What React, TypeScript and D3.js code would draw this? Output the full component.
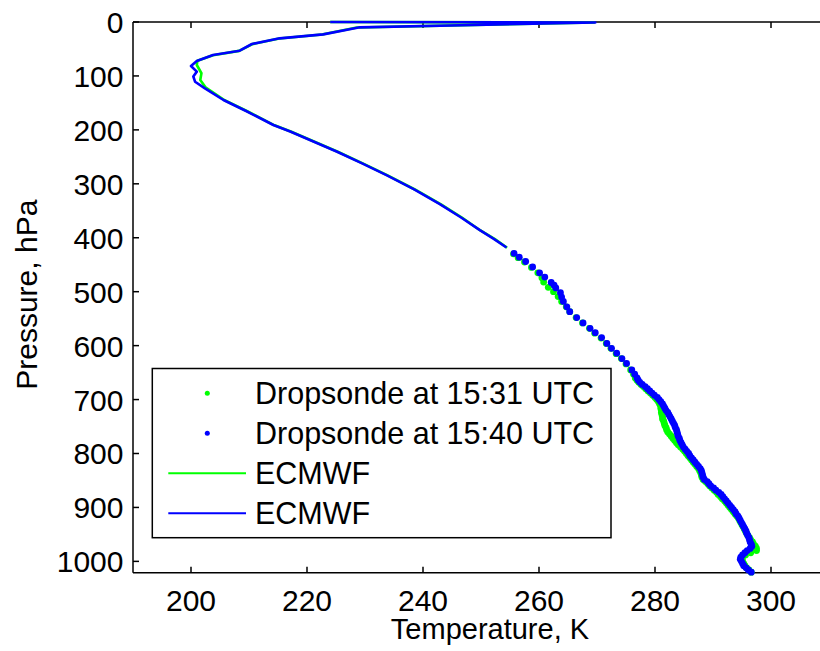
import React from "react";
import * as d3 from "d3";

// ---- data (T in K, p in hPa) ----
const ecmwfGreen: [number, number][] = [
  [224.0, 0.01], [269.5, 0.9], [228.6, 10.2], [222.6, 23.2], [215.2, 30.6], [210.6, 41.0],
  [208.3, 53.5], [203.8, 61.5], [201.1, 72.0], [201.0, 79.7], [201.8, 95.0], [201.6, 107.5],
  [202.5, 121.0], [205.8, 145.0], [209.7, 165.5], [214.4, 191.5], [217.3, 203.5],
  [225.3, 240.5], [229.7, 262.5], [233.9, 284.5], [238.6, 310.5], [243.1, 338.0],
  [246.7, 362.5], [249.9, 386.5], [252.4, 402.5], [254.5, 418.5],
];
const ecmwfBlue: [number, number][] = [
  [224.0, 0.01], [269.7, 0.8], [229.1, 9.9], [222.8, 22.9], [215.3, 30.3], [210.5, 40.8],
  [208.4, 53.2], [203.8, 61.2], [201.0, 72.3], [200.0, 81.6], [201.0, 92.0], [200.4, 101.0],
  [200.7, 110.7], [202.4, 123.0], [205.6, 144.6], [209.5, 165.0], [214.2, 191.0],
  [217.1, 203.0], [225.1, 240.0], [229.5, 262.0], [233.7, 284.0], [238.4, 310.0],
  [242.9, 337.5], [246.5, 362.0], [249.8, 386.0], [252.2, 402.0], [254.4, 418.0],
];
const sondeGreen: [number, number][] = [
  [255.6, 430], [256.4, 437], [257.5, 445], [258.7, 455], [259.8, 465], [260.5, 474], [260.8, 482],
  [261.6, 492], [262.5, 500], [263.3, 509], [263.9, 518], [264.7, 528], [265.3, 537], [266.4, 548],
  [267.5, 558], [268.7, 568], [269.6, 577], [270.7, 586], [271.6, 596], [272.4, 605], [273.3, 615],
  [274.2, 624], [275.0, 634], [275.8, 645], [276.3, 653],
  [276.6, 660], [276.9, 664], [277.2, 668], [277.6, 672], [278.0, 676], [278.4, 680], [278.8, 684],
  [279.2, 688], [279.6, 692], [280.0, 696], [280.3, 700], [280.6, 704], [280.8, 708], [281.0, 712],
  [281.0, 716], [281.1, 720], [281.1, 724], [281.2, 728], [281.3, 732], [281.3, 736], [281.5, 740],
  [281.6, 744], [281.7, 748], [281.9, 752], [282.0, 756], [282.2, 760], [282.5, 764], [282.8, 768],
  [283.1, 772], [283.4, 776], [283.7, 780], [284.0, 784], [284.4, 788], [284.8, 792], [285.1, 796],
  [285.4, 800], [285.7, 804], [286.0, 808], [286.3, 812], [286.6, 816], [286.9, 820], [287.2, 824],
  [287.5, 828], [287.7, 832], [287.9, 836], [288.0, 840], [288.1, 844], [288.3, 848], [288.7, 852],
  [289.1, 856], [289.4, 860], [289.8, 864], [290.2, 868], [290.6, 872], [290.9, 876], [291.3, 880],
  [291.6, 884], [292.0, 888], [292.3, 892], [292.6, 896], [292.9, 900], [293.2, 904], [293.5, 908],
  [293.8, 912], [294.1, 916], [294.4, 920], [294.6, 924], [294.8, 928], [295.0, 932], [295.2, 936],
  [295.4, 940], [295.6, 944], [295.8, 948], [296.0, 952], [296.3, 956], [296.5, 960], [296.8, 964],
  [297.0, 968], [297.3, 972], [297.5, 976], [297.5, 980], [296.5, 984], [295.6, 988], [295.1, 992],
  [295.0, 996], [295.1, 1000], [295.3, 1004], [295.5, 1008], [295.8, 1012], [296.2, 1016], [296.6, 1020],
];
const sondeBlue: [number, number][] = [
  [255.7, 429], [256.6, 436], [257.7, 444], [258.9, 454], [260.1, 465], [261.0, 473], [262.1, 483],
  [262.6, 488], [262.9, 493], [263.7, 502], [263.9, 510], [264.2, 518], [264.8, 528], [265.3, 537],
  [266.5, 548], [267.6, 558], [268.8, 568], [269.7, 576], [270.8, 585], [271.7, 596], [272.5, 605],
  [273.4, 614], [274.3, 624], [275.1, 633], [276.0, 645], [276.5, 653],
  [276.9, 660], [277.1, 664], [277.4, 668], [277.8, 672], [278.3, 676], [278.7, 680], [279.1, 684],
  [279.5, 688], [279.9, 692], [280.4, 696], [280.7, 700], [281.0, 704], [281.3, 708], [281.5, 712],
  [281.7, 716], [281.9, 720], [282.2, 724], [282.4, 728], [282.6, 732], [282.8, 736], [283.0, 740],
  [283.2, 744], [283.4, 748], [283.5, 752], [283.7, 756], [283.8, 760], [283.9, 764], [284.0, 768],
  [284.2, 772], [284.3, 776], [284.5, 780], [284.7, 784], [284.9, 788], [285.2, 792], [285.5, 796],
  [285.8, 800], [286.0, 804], [286.3, 808], [286.6, 812], [286.9, 816], [287.2, 820], [287.5, 824],
  [287.8, 828], [288.0, 832], [288.1, 836], [288.2, 840], [288.3, 844], [288.5, 848], [289.0, 852],
  [289.3, 856], [289.6, 860], [290.1, 864], [290.5, 868], [291.0, 872], [291.4, 876], [291.7, 880],
  [292.0, 884], [292.3, 888], [292.6, 892], [292.9, 896], [293.2, 900], [293.5, 904], [293.8, 908],
  [294.0, 912], [294.3, 916], [294.5, 920], [294.7, 924], [294.9, 928], [295.1, 932], [295.3, 936],
  [295.5, 940], [295.7, 944], [295.8, 948], [296.0, 952], [296.2, 956], [296.3, 960], [296.4, 964],
  [296.6, 968], [296.7, 972], [296.4, 976], [295.9, 980], [295.5, 984], [295.1, 988], [294.8, 992],
  [294.7, 996], [294.9, 1000], [295.1, 1004], [295.3, 1008], [295.7, 1012], [296.1, 1016], [296.6, 1020],
];
const xTicks = [200, 220, 240, 260, 280, 300];
const yTicks = [0, 100, 200, 300, 400, 500, 600, 700, 800, 900, 1000];
const legendLabels = ["Dropsonde at 15:31 UTC", "Dropsonde at 15:40 UTC", "ECMWF", "ECMWF"];
const xTitle = "Temperature, K";
const yTitle = "Pressure, hPa";

const GREEN = "#00ff00";
const BLUE = "#0000ff";
const FONT = "'Liberation Sans', Arial, Helvetica, sans-serif";

export default function App() {
  const W = 820, H = 651;
  const left = 133, right = 829, top = 22, bottom = 572.7;
  const x = d3.scaleLinear().domain([190, 310]).range([left, right]);
  const y = d3.scaleLinear().domain([0, 1021]).range([top, bottom]);
  const line = d3.line<[number, number]>().x((d) => x(d[0])).y((d) => y(d[1]));
  const tick = 6;

  const legend = { x: 152.3, y: 368.5, w: 458.7, h: 169.2 };
  const rowY = (i: number) => 393.3 + i * 40;

  return (
    <svg width={W} height={H} style={{ position: "absolute", left: 0, top: 0, display: "block", background: "#fff" }}
      fontFamily={FONT}>
      <rect x={0} y={0} width={W} height={H} fill="#fff" />
      {/* axes */}
      <g stroke="#000" strokeWidth={1.5} fill="none">
        <line x1={left} x2={W} y1={top} y2={top} />
        <line x1={left} x2={W} y1={bottom} y2={bottom} />
        <line x1={left} x2={left} y1={top} y2={bottom} />
        {xTicks.map((t) => (
          <g key={"xt" + t}>
            <line x1={x(t)} x2={x(t)} y1={bottom} y2={bottom - tick} />
            <line x1={x(t)} x2={x(t)} y1={top} y2={top + tick} />
          </g>
        ))}
        {yTicks.map((t) => (
          <line key={"yt" + t} x1={left} x2={left + tick} y1={y(t)} y2={y(t)} />
        ))}
      </g>
      <g fontSize={30} fill="#000">
        {xTicks.map((t) => (
          <text key={"xl" + t} x={x(t)} y={610.5} textAnchor="middle">{t}</text>
        ))}
        {yTicks.map((t) => (
          <text key={"yl" + t} x={123.5} y={y(t) + 11} textAnchor="end">{t}</text>
        ))}
      </g>
      <text x={490} y={639} fontSize={29} textAnchor="middle">{xTitle}</text>
      <text transform="translate(36.5,294.7) rotate(-90)" fontSize={30} textAnchor="middle">{yTitle}</text>

      {/* data */}
      {sondeGreen.map((d, i) => (
        <circle key={"sg" + i} cx={x(d[0])} cy={y(d[1])} r={3.4} fill={GREEN} />
      ))}
      {sondeBlue.map((d, i) => (
        <circle key={"sb" + i} cx={x(d[0])} cy={y(d[1])} r={3.4} fill={BLUE} />
      ))}
      <path d={line(ecmwfGreen) || ""} fill="none" stroke={GREEN} strokeWidth={2.6} strokeLinejoin="round" />
      <path d={line(ecmwfBlue) || ""} fill="none" stroke={BLUE} strokeWidth={2.6} strokeLinejoin="round" />

      {/* legend */}
      <rect x={legend.x} y={legend.y} width={legend.w} height={legend.h} fill="#fff" stroke="#000" strokeWidth={1.5} />
      <circle cx={207.3} cy={rowY(0)} r={2.5} fill={GREEN} />
      <circle cx={207.3} cy={rowY(1)} r={2.5} fill={BLUE} />
      <line x1={168.3} x2={246} y1={rowY(2)} y2={rowY(2)} stroke={GREEN} strokeWidth={2} />
      <line x1={168.3} x2={246} y1={rowY(3)} y2={rowY(3)} stroke={BLUE} strokeWidth={2} />
      {legendLabels.map((l, i) => (
        <text key={"lg" + i} x={255} y={rowY(i) + 10.7} fontSize={30.5} fill="#000">{l}</text>
      ))}
    </svg>
  );
}
